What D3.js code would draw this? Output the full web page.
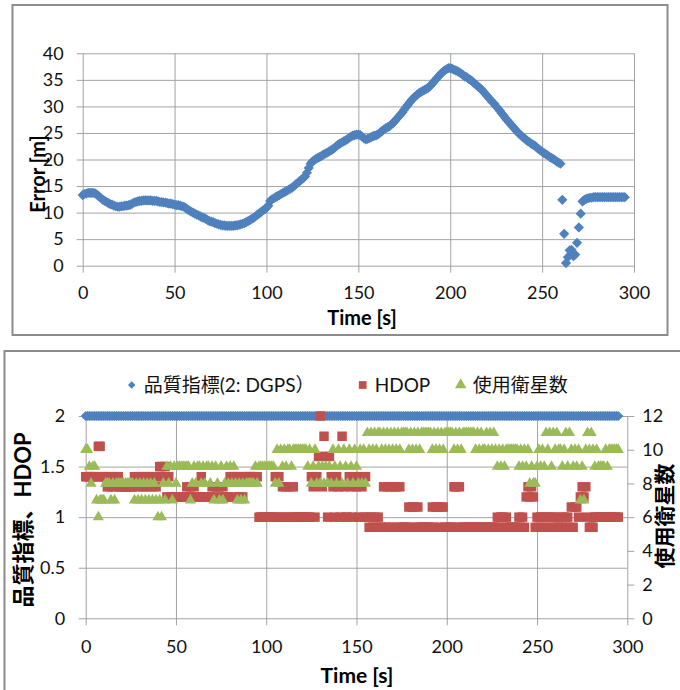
<!DOCTYPE html>
<html>
<head>
<meta charset="utf-8">
<script src="https://cdn.jsdelivr.net/npm/d3@7"></script>
<style>
  body { margin: 0; background: #fff; }
  svg { display: block; }
</style>
</head>
<body>
<svg id="chart" width="680" height="690"></svg>
<script>
// ---------- data (1 sample per second, index = time in seconds) ----------
const errorM = [
  13.3, 13.5, 13.6, 13.7, 13.7, 13.7, 13.7, 13.6, 13.3, 13.0,   // 0-9
  12.7, 12.4, 12.2, 12.0, 11.8, 11.6, 11.5, 11.3, 11.2, 11.1,   // 10-19
  11.1, 11.2, 11.2, 11.3, 11.3, 11.4, 11.5, 11.7, 11.9, 12.0,   // 20-29
  12.1, 12.2, 12.2, 12.3, 12.3, 12.3, 12.3, 12.3, 12.2, 12.2,   // 30-39
  12.2, 12.1, 12.0, 12.0, 11.9, 11.9, 11.8, 11.7, 11.7, 11.6,   // 40-49
  11.5, 11.4, 11.4, 11.3, 11.2, 11.1, 10.9, 10.6, 10.4, 10.2,   // 50-59
  10.0, 9.8, 9.6, 9.5, 9.3, 9.1, 9.0, 8.8, 8.6, 8.4,            // 60-69
  8.3, 8.2, 8.0, 7.9, 7.8, 7.7, 7.6, 7.6, 7.5, 7.5,             // 70-79
  7.5, 7.5, 7.5, 7.6, 7.6, 7.7, 7.8, 7.9, 8.0, 8.2,             // 80-89
  8.4, 8.6, 8.8, 9.0, 9.3, 9.6, 9.8, 10.1, 10.4, 10.6,          // 90-99
  10.9, 11.3, 12.2, 12.5, 12.7, 12.9, 13.1, 13.3, 13.5, 13.7,   // 100-109
  13.9, 14.1, 14.3, 14.5, 14.7, 15.0, 15.3, 15.6, 15.9, 16.2,   // 110-119
  16.5, 16.8, 17.5, 18.4, 19.2, 19.6, 19.9, 20.1, 20.3, 20.5,   // 120-129
  20.7, 20.9, 21.1, 21.3, 21.5, 21.7, 21.9, 22.2, 22.5, 22.8,   // 130-139
  23.0, 23.2, 23.4, 23.6, 23.8, 24.1, 24.3, 24.5, 24.6, 24.7,   // 140-149
  24.7, 24.6, 24.3, 24.0, 23.8, 23.9, 24.0, 24.2, 24.4, 24.5,   // 150-159
  24.6, 24.8, 25.1, 25.4, 25.7, 25.9, 26.1, 26.3, 26.6, 26.9,   // 160-169
  27.3, 27.7, 28.1, 28.5, 28.9, 29.4, 29.9, 30.3, 30.8, 31.2,   // 170-179
  31.6, 31.9, 32.2, 32.5, 32.7, 32.9, 33.1, 33.3, 33.5, 33.8,   // 180-189
  34.2, 34.6, 35.0, 35.4, 35.8, 36.2, 36.5, 36.8, 37.0, 37.2,   // 190-199
  37.2, 37.1, 36.9, 36.8, 36.6, 36.4, 36.2, 35.9, 35.6, 35.5,   // 200-209
  35.2, 35.0, 34.7, 34.4, 34.1, 33.8, 33.5, 33.2, 32.8, 32.4,   // 210-219
  32.0, 31.6, 31.2, 30.8, 30.5, 30.0, 29.6, 29.2, 28.7, 28.3,   // 220-229
  27.8, 27.4, 27.0, 26.6, 26.2, 25.8, 25.4, 25.0, 24.7, 24.4,   // 230-239
  24.1, 23.8, 23.5, 23.3, 23.0, 22.8, 22.6, 22.3, 22.0, 21.7,   // 240-249
  21.5, 21.2, 21.0, 20.8, 20.5, 20.3, 20.1, 19.9, 19.6, 19.4,   // 250-259
  19.2, 12.4, 6.0, 0.5, 1.6, 2.9, 3.0, 1.8, 2.1, 4.3,           // 260-269
  7.2, 9.8, 12.1, 12.4, 12.6, 12.7, 12.8, 12.8, 12.9, 12.9,     // 270-279
  12.9, 12.9, 12.9, 12.9, 12.9, 12.9, 12.9, 12.9, 12.9, 12.9,   // 280-289
  12.9, 12.9, 12.9, 12.9, 12.9, 12.9                            // 290-295
];

// GPS quality indicator (2 = DGPS) for every second
const qualityIndex = [
  2,2,2,2,2,2,2,2,2,2, 2,2,2,2,2,2,2,2,2,2, 2,2,2,2,2,2,2,2,2,2, 2,2,2,2,2,2,2,2,2,2, 2,2,2,2,2,2,2,2,2,2,   // 0-49
  2,2,2,2,2,2,2,2,2,2, 2,2,2,2,2,2,2,2,2,2, 2,2,2,2,2,2,2,2,2,2, 2,2,2,2,2,2,2,2,2,2, 2,2,2,2,2,2,2,2,2,2,   // 50-99
  2,2,2,2,2,2,2,2,2,2, 2,2,2,2,2,2,2,2,2,2, 2,2,2,2,2,2,2,2,2,2, 2,2,2,2,2,2,2,2,2,2, 2,2,2,2,2,2,2,2,2,2,   // 100-149
  2,2,2,2,2,2,2,2,2,2, 2,2,2,2,2,2,2,2,2,2, 2,2,2,2,2,2,2,2,2,2, 2,2,2,2,2,2,2,2,2,2, 2,2,2,2,2,2,2,2,2,2,   // 150-199
  2,2,2,2,2,2,2,2,2,2, 2,2,2,2,2,2,2,2,2,2, 2,2,2,2,2,2,2,2,2,2, 2,2,2,2,2,2,2,2,2,2, 2,2,2,2,2,2,2,2,2,2,   // 200-249
  2,2,2,2,2,2,2,2,2,2, 2,2,2,2,2,2,2,2,2,2, 2,2,2,2,2,2,2,2,2,2, 2,2,2,2,2,2,2,2,2,2, 2,2,2,2,2,2            // 250-295
];

const hdop = [
  1.4,1.4,1.4,1.4,1.4,1.4,1.4,1.7,1.7,1.4,   // 0-9
  1.4,1.4,1.3,1.4,1.3,1.4,1.3,1.4,1.4,1.3,   // 10-19
  1.3,1.3,1.3,1.3,1.3,1.3,1.3,1.4,1.4,1.3,   // 20-29
  1.4,1.4,1.3,1.4,1.3,1.4,1.4,1.3,1.4,1.3,   // 30-39
  1.4,1.5,1.5,1.4,1.5,1.2,1.4,1.2,1.2,1.2,   // 40-49
  1.2,1.2,1.2,1.2,1.2,1.2,1.3,1.2,1.3,1.2,   // 50-59
  1.3,1.2,1.2,1.2,1.4,1.2,1.2,1.2,1.2,1.2,   // 60-69
  1.3,1.2,1.3,1.3,1.3,1.2,1.3,1.2,1.2,1.2,   // 70-79
  1.4,1.4,1.4,1.2,1.4,1.2,1.4,1.2,1.4,1.4,   // 80-89
  1.4,1.4,1.4,1.4,1.4,1.4,1.0,1.0,1.0,1.0,   // 90-99
  1.0,1.0,1.0,1.0,1.0,1.4,1.0,1.4,1.0,1.3,   // 100-109
  1.0,1.3,1.0,1.3,1.0,1.3,1.0,1.0,1.0,1.0,   // 110-119
  1.0,1.0,1.0,1.0,1.0,1.4,1.3,1.0,1.4,1.6,   // 120-129
  2.0,1.3,1.8,1.6,1.0,1.6,1.4,1.3,1.0,1.4,   // 130-139
  1.3,1.0,1.8,1.3,1.0,1.0,1.4,1.3,1.0,1.4,   // 140-149
  1.3,1.0,1.4,1.3,1.0,1.4,1.0,0.9,1.0,0.9,   // 150-159
  1.0,0.9,1.0,0.9,0.9,1.3,0.9,1.3,0.9,1.3,   // 160-169
  0.9,1.3,1.3,0.9,1.3,0.9,0.9,0.9,0.9,1.1,   // 170-179
  0.9,1.1,1.1,0.9,1.1,0.9,0.9,0.9,0.9,0.9,   // 180-189
  0.9,0.9,1.1,0.9,1.1,1.1,0.9,1.1,1.1,0.9,   // 190-199
  0.9,0.9,0.9,0.9,1.3,1.3,0.9,1.3,0.9,0.9,   // 200-209
  0.9,0.9,0.9,0.9,0.9,0.9,0.9,0.9,0.9,0.9,   // 210-219
  0.9,0.9,0.9,0.9,0.9,0.9,0.9,0.9,1.0,0.9,   // 220-229
  1.0,1.0,0.9,1.0,0.9,0.9,0.9,0.9,0.9,0.9,   // 230-239
  1.0,0.9,1.0,0.9,1.2,1.3,1.2,1.3,1.2,0.9,   // 240-249
  1.0,0.9,1.0,1.0,0.9,1.0,0.9,1.0,1.0,0.9,   // 250-259
  1.0,0.9,0.9,1.0,0.9,1.0,0.9,1.0,0.9,1.1,   // 260-269
  0.9,1.1,1.1,1.0,1.2,1.3,1.2,1.3,1.0,0.9,   // 270-279
  0.9,0.9,1.0,1.0,1.0,1.0,1.0,1.0,1.0,1.0,   // 280-289
  1.0,1.0,1.0,1.0,1.0,1.0                    // 290-295
];

// number of satellites in use (right axis)
const satellites = [
  10,10,9,8,9,9,7,6,7,7,          // 0-9
  7,8,8,8,7,8,7,8,8,8,            // 10-19
  8,8,8,8,8,8,8,7,8,7,            // 20-29
  8,7,8,7,8,7,8,7,8,7,            // 30-39
  6,7,6,8,7,9,8,9,7,9,            // 40-49
  8,9,9,9,9,9,9,9,7,8,            // 50-59
  9,8,9,9,8,9,8,9,9,8,            // 60-69
  9,7,9,8,7,9,7,8,9,8,            // 70-79
  9,8,9,8,7,8,7,8,7,8,            // 80-89
  8,8,8,8,9,8,9,9,9,9,            // 90-99
  9,9,9,9,9,8,10,8,10,9,          // 100-109
  10,9,10,10,9,10,10,10,10,10,    // 110-119
  10,10,10,9,10,8,9,10,8,9,       // 120-129
  8,9,8,9,8,9,8,10,9,8,           // 130-139
  10,9,8,10,9,8,10,9,8,10,        // 140-149
  9,8,10,8,10,8,11,10,11,10,      // 150-159
  11,10,11,11,10,11,10,11,10,11,  // 160-169
  10,11,10,11,10,11,11,11,11,10,  // 170-179
  11,10,11,10,11,10,11,11,11,11,  // 180-189
  11,11,10,11,10,11,10,11,10,11,  // 190-199
  11,11,11,11,10,11,10,11,10,11,  // 200-209
  11,11,11,11,11,11,10,11,10,11,  // 210-219
  10,10,11,10,11,10,11,10,9,10,   // 220-229
  9,10,9,10,10,10,10,10,10,10,    // 230-239
  9,10,9,10,9,10,8,9,8,8,         // 240-249
  9,10,9,10,9,11,10,11,9,11,      // 250-259
  10,11,10,10,9,10,11,9,11,10,    // 260-269
  9,10,9,10,7,9,7,10,11,10,       // 270-279
  11,10,9,10,9,9,9,9,10,9,        // 280-289
  10,10,10,10,10,10               // 290-295
];

// axis ticks and labels
const timeTicks = [0, 50, 100, 150, 200, 250, 300];
const errorTicks = [0, 5, 10, 15, 20, 25, 30, 35, 40];
const leftTicks = [0, 0.5, 1, 1.5, 2];
const rightTicks = [0, 2, 4, 6, 8, 10, 12];

const errorTitle = "Error [m]";
const timeTitle = "Time [s]";
const leftTitle = "品質指標、HDOP";
const rightTitle = "使用衛星数";
const legendNames = ["品質指標(2: DGPS）", "HDOP", "使用衛星数"];

// ---------- styling ----------
const BLUE = "#4F81BD", RED = "#C0504D", GREEN = "#9BBB59";
const GRID = "#a3a3a3", FRAME = "#8c8c8c";
const FONT = "Lato, 'Noto Sans CJK JP', sans-serif";
const fmt = d3.format("~g");

const svg = d3.select("#chart");

// chart frames
svg.append("rect").attr("x", 12.5).attr("y", 5).attr("width", 655).attr("height", 330)
  .attr("fill", "#fff").attr("stroke", FRAME).attr("stroke-width", 2);
svg.append("rect").attr("x", 4.5).attr("y", 351).attr("width", 700).attr("height", 400)
  .attr("fill", "#fff").attr("stroke", FRAME).attr("stroke-width", 2);

function styleAxis(g, fontSize) {
  g.select(".domain").remove();
  g.selectAll(".tick line").attr("stroke", GRID).attr("stroke-width", 1);
  g.selectAll(".tick text").attr("fill", "#111").style("font-family", FONT).style("font-size", fontSize + "px");
}

// marker shapes
const diamondPath = d3.symbol(d3.symbolSquare, 52)();
const squarePath = d3.symbol(d3.symbolSquare, 90)();
const trianglePath = d3.symbol(d3.symbolTriangle, 54)();

// ================= top chart: Error vs Time =================
const xTop = d3.scaleLinear().domain([0, 300]).range([82.7, 634]);
const yTop = d3.scaleLinear().domain([0, 40]).range([265.7, 53.3]);
const topW = xTop(300) - xTop(0), topH = yTop(0) - yTop(40);

svg.append("g").attr("transform", `translate(${xTop(0)},0)`)
  .call(d3.axisLeft(yTop).tickValues(errorTicks).tickFormat(fmt).tickSize(-topW).tickPadding(19))
  .call(g => styleAxis(g, 18))
  .call(g => g.selectAll(".tick line").attr("x1", -6));

svg.append("g").attr("transform", `translate(0,${yTop(0)})`)
  .call(d3.axisBottom(xTop).tickValues(timeTicks).tickFormat(fmt).tickSize(-topH).tickPadding(21))
  .call(g => styleAxis(g, 18))
  .call(g => g.selectAll(".tick line").attr("y1", 7));

svg.append("g").selectAll("path").data(errorM).join("path")
  .attr("d", diamondPath)
  .attr("transform", (d, i) => `translate(${xTop(i)},${yTop(d)}) rotate(45)`)
  .attr("fill", BLUE);

svg.append("text").attr("x", 362).attr("y", 325).attr("text-anchor", "middle")
  .style("font-family", FONT).style("font-size", "20px").style("font-weight", "bold")
  .text(timeTitle);
svg.append("text").attr("transform", "translate(38,174) rotate(-90)").attr("text-anchor", "middle")
  .attr("dy", "0.35em")
  .style("font-family", FONT).style("font-size", "20px").style("font-weight", "bold")
  .text(errorTitle);

// ================= bottom chart: quality, HDOP, satellites =================
const xBot = d3.scaleLinear().domain([0, 300]).range([85.7, 627.3]);
const yLeft = d3.scaleLinear().domain([0, 2]).range([618.3, 416]);
const yRight = d3.scaleLinear().domain([0, 12]).range([618.3, 416]);
const botW = xBot(300) - xBot(0), botH = yLeft(0) - yLeft(2);

svg.append("g").attr("transform", `translate(${xBot(0)},0)`)
  .call(d3.axisLeft(yLeft).tickValues(leftTicks).tickFormat(fmt).tickSize(-botW).tickPadding(20.5))
  .call(g => styleAxis(g, 18))
  .call(g => g.selectAll(".tick line").attr("x1", -7));

svg.append("g").attr("transform", `translate(0,${yLeft(0)})`)
  .call(d3.axisBottom(xBot).tickValues(timeTicks).tickFormat(fmt).tickSize(-botH).tickPadding(22))
  .call(g => styleAxis(g, 18))
  .call(g => g.selectAll(".tick line").attr("y1", 7));

svg.append("g").attr("transform", `translate(${xBot(300)},0)`)
  .call(d3.axisRight(yRight).tickValues(rightTicks).tickFormat(fmt).tickSize(7).tickPadding(8))
  .call(g => styleAxis(g, 18));

// series: quality (blue), HDOP (red), satellites (green, right axis)
svg.append("g").selectAll("path").data(qualityIndex).join("path")
  .attr("d", diamondPath)
  .attr("transform", (d, i) => `translate(${xBot(i)},${yLeft(d)}) rotate(45)`)
  .attr("fill", BLUE);

svg.append("g").selectAll("path").data(hdop).join("path")
  .attr("d", squarePath)
  .attr("transform", (d, i) => `translate(${xBot(i)},${yLeft(d)})`)
  .attr("fill", RED);

svg.append("g").selectAll("path").data(satellites).join("path")
  .attr("d", trianglePath)
  .attr("transform", (d, i) => `translate(${xBot(i)},${yRight(d)})`)
  .attr("fill", GREEN);

// legend
const legendItems = [
  { name: legendNames[0], x: 131.7, path: d3.symbol(d3.symbolSquare, 28)(), rot: 45, color: BLUE },
  { name: legendNames[1], x: 362.7, path: d3.symbol(d3.symbolSquare, 60)(), rot: 0, color: RED },
  { name: legendNames[2], x: 460.7, path: d3.symbol(d3.symbolTriangle, 58)(), rot: 0, color: GREEN }
];
const lg = svg.append("g").selectAll("g").data(legendItems).join("g")
  .attr("transform", d => `translate(${d.x},385)`);
lg.append("path").attr("d", d => d.path).attr("transform", d => `rotate(${d.rot})`).attr("fill", d => d.color);
lg.append("text").attr("x", 12).attr("y", 6.5)
  .style("font-family", FONT).style("font-size", "19px").attr("fill", "#111")
  .text(d => d.name);

// axis titles
svg.append("text").attr("x", 357).attr("y", 683).attr("text-anchor", "middle")
  .style("font-family", FONT).style("font-size", "21px").style("font-weight", "bold")
  .text(timeTitle);
svg.append("text").attr("transform", "translate(23,520) rotate(-90)").attr("text-anchor", "middle")
  .attr("dy", "0.35em")
  .style("font-family", FONT).style("font-size", "22px").style("font-weight", "bold")
  .text(leftTitle);
svg.append("text").attr("transform", "translate(665,516) rotate(-90)").attr("text-anchor", "middle")
  .attr("dy", "0.35em")
  .style("font-family", FONT).style("font-size", "21px").style("font-weight", "bold")
  .text(rightTitle);
</script>
</body>
</html>
